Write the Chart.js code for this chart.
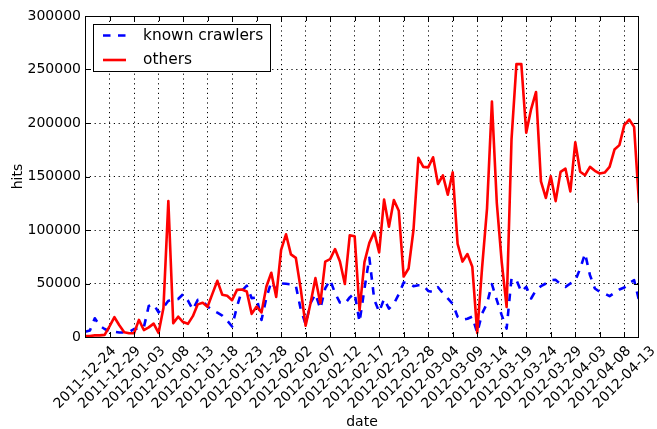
<!DOCTYPE html>
<html>
<head>
<meta charset="utf-8">
<script src="https://cdn.jsdelivr.net/npm/chart.js@4.4.1/dist/chart.umd.min.js"></script>
<style>
  html, body { margin: 0; padding: 0; background: #fff; }
  #wrap { width: 657px; height: 429px; }
</style>
</head>
<body>
<div id="wrap"><canvas id="hitsChart" width="657" height="429"></canvas></div>
<script>
// one label every 5 days (one day is missing in the data around 02-20)
const tickDates = ["2011-12-24", "2011-12-29", "2012-01-03", "2012-01-08", "2012-01-13",
    "2012-01-18", "2012-01-23", "2012-01-28", "2012-02-02", "2012-02-07", "2012-02-12",
    "2012-02-17", "2012-02-23", "2012-02-28", "2012-03-04", "2012-03-09", "2012-03-14",
    "2012-03-19", "2012-03-24", "2012-03-29", "2012-04-03", "2012-04-08", "2012-04-13"];
const yTicks = [0, 50000, 100000, 150000, 200000, 250000, 300000];
const seriesNames = ["known crawlers", "others"];

const knownCrawlers = [
    4800, 6000, 17500, 10500, 7500, 5500, 5000, 4200, 4200, 4500,
    7500, 8000, 9000, 29000, 30500, 23000, 27800, 33800, 34500, 35500,
    40000, 34000, 25500, 34700, 34000, 28500, 25000, 22700, 20000, 15300,
    9800, 28500, 43300, 48000, 36300, 37000, 16000, 36600, 51500, 44000,
    50000, 49700, 49200, 48000, 26000, 12000, 31600, 40200, 26500, 45500,
    53400, 41000, 32200, 31000, 37000, 41000, 14000, 45000, 74000, 35000,
    23500, 35500, 26500, 31000, 40000, 51000, 50300, 47500, 48300, 48300,
    43000, 42000, 46500, 41000, 36000, 31000, 19000, 16000, 17000, 19000,
    3900, 22000, 31300, 49400, 34400, 20400, 7900, 55000, 53100, 42200,
    46900, 36000, 43800, 47500, 50000, 53100, 53400, 49400, 46900, 50000,
    52500, 64000, 78000, 57800, 45300, 42200, 40600, 38200, 41300, 44400,
    46300, 50600, 53100, 34400];

const others = [
    1000, 1000, 1500, 1500, 2000, 10000, 18500, 11000, 4500, 3500,
    3500, 16000, 6500, 9000, 12500, 3800, 27000, 127000, 12800, 19000,
    14000, 12300, 19500, 30500, 32000, 28200, 40500, 52500, 39500, 38500,
    34400, 44000, 44400, 42500, 21600, 28500, 23000, 47200, 60000, 37500,
    81500, 96000, 77200, 74000, 45000, 10500, 31500, 55000, 31500, 70500,
    72800, 82200, 70500, 49500, 95000, 94200, 25000, 70000, 88000, 98000,
    79000, 128500, 103000, 128000, 118000, 56500, 64000, 100000, 167500, 159000,
    158500, 168000, 143000, 151000, 133000, 154000, 87000, 70500, 77500, 65600,
    3900, 65000, 120000, 220000, 125000, 70000, 28000, 185000, 255000, 255000,
    191000, 213000, 229000, 145500, 130000, 150300, 127000, 154300, 157300, 136000,
    182000, 154500, 151200, 159000, 155300, 152800, 153700, 159000, 175200, 179300,
    198000, 203200, 196400, 125400];

const FONT = "DejaVu Sans";
const dashPattern = [7.5, 7.5];

// matplotlib style box: full frame, inward ticks on all sides, legend in the upper left
const framePlugin = {
    id: "frame",
    afterDraw(chart) {
        const ctx = chart.ctx;
        const a = chart.chartArea;
        const xs = chart.scales.x;
        const ys = chart.scales.y;
        ctx.save();
        ctx.strokeStyle = "#000";
        ctx.lineWidth = 1;
        ctx.setLineDash([]);
        ctx.strokeRect(a.left + 0.5, a.top + 0.5, a.right - a.left - 1, a.bottom - a.top);

        const tl = 5;
        ctx.beginPath();
        for (let k = 0; k < tickDates.length; k++) {
            const px = Math.round(xs.getPixelForValue(k * 5)) + 0.5;
            ctx.moveTo(px, a.bottom);
            ctx.lineTo(px, a.bottom - tl);
            ctx.moveTo(px, a.top);
            ctx.lineTo(px, a.top + tl);
        }
        for (const v of yTicks) {
            const py = Math.round(ys.getPixelForValue(v)) + 0.5;
            ctx.moveTo(a.left, py);
            ctx.lineTo(a.left + tl, py);
            ctx.moveTo(a.right, py);
            ctx.lineTo(a.right - tl, py);
        }
        ctx.stroke();

        // legend
        const lx = 93, ly = 24, lw = 177, lh = 47;
        ctx.fillStyle = "#fff";
        ctx.fillRect(lx, ly, lw, lh);
        ctx.strokeRect(lx + 0.5, ly + 0.5, lw, lh);
        const rows = [35.5, 60];
        chart.data.datasets.forEach((ds, i) => {
            ctx.save();
            ctx.strokeStyle = ds.borderColor;
            ctx.lineWidth = ds.borderWidth;
            ctx.setLineDash(ds.borderDash || []);
            ctx.beginPath();
            ctx.moveTo(103, rows[i]);
            ctx.lineTo(126, rows[i]);
            ctx.stroke();
            ctx.restore();
            ctx.fillStyle = "#000";
            ctx.font = "15.4px '" + FONT + "'";
            ctx.textBaseline = "middle";
            ctx.textAlign = "left";
            ctx.fillText(ds.label, 143, rows[i]);
        });
        ctx.restore();
    }
};

new Chart(document.getElementById("hitsChart"), {
    type: "line",
    data: {
        datasets: [{
            label: seriesNames[0],
            data: knownCrawlers.map((v, i) => ({x: i, y: v})),
            borderColor: "#0000ff",
            borderWidth: 2.6,
            borderDash: dashPattern,
            borderJoinStyle: "round",
            pointRadius: 0,
            tension: 0,
            order: 1
        }, {
            label: seriesNames[1],
            data: others.map((v, i) => ({x: i, y: v})),
            borderColor: "#ff0000",
            borderWidth: 2.6,
            borderJoinStyle: "round",
            pointRadius: 0,
            tension: 0,
            order: 0
        }]
    },
    options: {
        responsive: false,
        devicePixelRatio: 1,
        animation: false,
        events: [],
        layout: { padding: { top: 16, right: 18, left: 0, bottom: 0 } },
        plugins: { legend: { display: false }, tooltip: { enabled: false } },
        scales: {
            x: {
                type: "linear",
                min: 0,
                max: others.length - 1,
                afterBuildTicks: scale => {
                    scale.ticks = tickDates.map((d, k) => ({value: k * 5}));
                },
                afterFit: scale => { scale.height = 92; },
                ticks: {
                    autoSkip: false,
                    minRotation: 45,
                    maxRotation: 45,
                    padding: 6,
                    labelOffset: 29,
                    color: "#000",
                    font: { family: FONT, size: 14 },
                    callback: v => tickDates[Math.round(v / 5)]
                },
                grid: { color: "#000", lineWidth: 1, drawTicks: false },
                border: { display: false, dash: [1.2, 3.6] },
                title: {
                    display: true,
                    text: "date",
                    color: "#000",
                    font: { family: FONT, size: 14 },
                    padding: { top: 0, bottom: -2 }
                }
            },
            y: {
                min: 0,
                max: 300000,
                afterBuildTicks: scale => {
                    scale.ticks = yTicks.map(v => ({value: v}));
                },
                afterFit: scale => { scale.width = 85; },
                ticks: {
                    padding: 4,
                    color: "#000",
                    font: { family: FONT, size: 14 },
                    callback: v => String(v)
                },
                grid: { color: "#000", lineWidth: 1, drawTicks: false },
                border: { display: false, dash: [1.2, 3.6] },
                title: {
                    display: true,
                    text: "hits",
                    color: "#000",
                    font: { family: FONT, size: 14 },
                    padding: { top: 10, bottom: 0 }
                }
            }
        }
    },
    plugins: [framePlugin]
});
</script>
</body>
</html>
